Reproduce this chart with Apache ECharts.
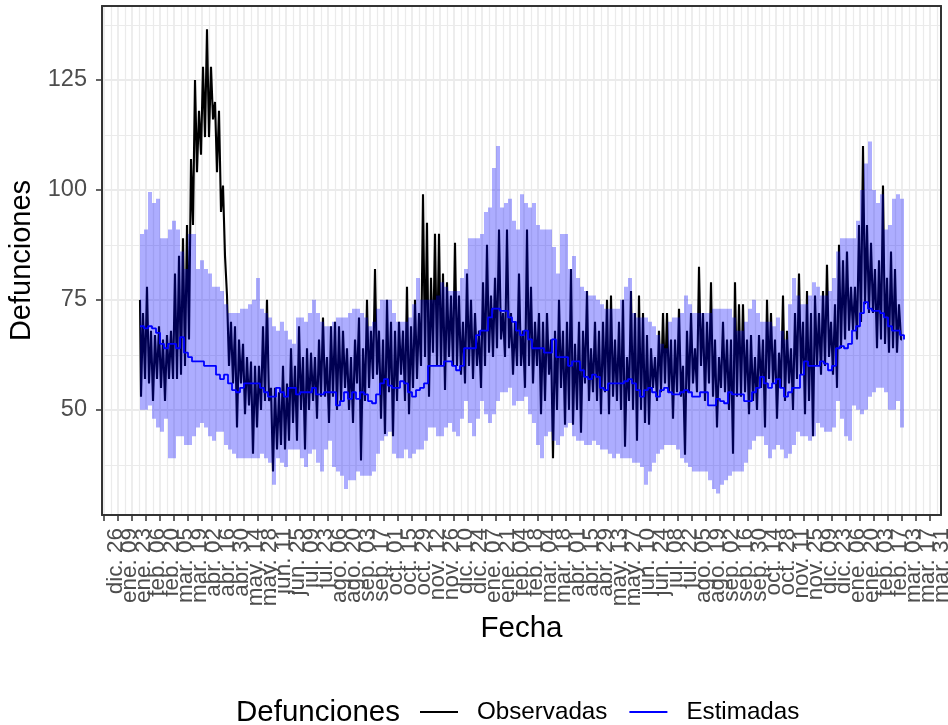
<!DOCTYPE html>
<html>
<head>
<meta charset="utf-8">
<style>
  html, body { margin: 0; padding: 0; background: #fff; }
  #chart { width: 948px; height: 725px; }
</style>
</head>
<body>
<div id="chart"></div>
<script src="https://cdn.jsdelivr.net/npm/echarts@6/dist/echarts.min.js"></script>
<script>
// tick labels, one every 14 days starting at day 0
const tickLabels = [
  'dic. 26','ene. 09','ene. 23','feb. 06','feb. 20','mar. 05','mar. 19','abr. 02','abr. 16','abr. 30',
  'may. 14','may. 28','jun. 11','jun. 25','jul. 09','jul. 23','ago. 06','ago. 20','sep. 03','sep. 17',
  'oct. 01','oct. 15','oct. 29','nov. 12','nov. 26','dic. 10','dic. 24','ene. 07','ene. 21','feb. 04',
  'feb. 18','mar. 04','mar. 18','abr. 01','abr. 15','abr. 29','may. 13','may. 27','jun. 10','jun. 24',
  'jul. 08','jul. 22','ago. 05','ago. 19','sep. 02','sep. 16','sep. 30','oct. 14','oct. 28','nov. 11',
  'nov. 25','dic. 09','dic. 23','ene. 06','ene. 20','feb. 03','feb. 17','mar. 03','mar. 17','mar. 31'
]
const yTicks = [50, 75, 100, 125]
const yMinor = [37.5, 62.5, 87.5, 112.5, 137.5]

// values, first point on day 36
const firstDay = 36
const obsStep = 2
const bandStep = 4

const observadas = [
  75,53,72,57,78,56,68,52,67,57,69,55,66,52,67,57,68,57,81,57,85,58,89,60,92,66,
  107,92,125,104,118,108,128,112,136.5,112,128,116,120,104,118,95,101,85,
  76,60,70,56,69,46,66,56,65,49,62,51,
  61,40,60,46,60,50,69,52,75,52,
  55,36,55,41,54,42,60,41,56,43,64,47,
  60,43,69,50,62,41,64,50,63,52,62,48,66,53,71,53,62,47,69,53,
  70,50,69,52,68,55,64,50,62,47,66,56,71,38.5,64,52,75,55,68,57,
  82,58,68,48,66,44.5,75,54,70,44,68,52,
  70,58,68,52,78,49,69,55,75,57,72,60,99,62,92.5,53,
  80,63,90,60,90,60,81,54.5,79,62,76,60,88,60,76,58,
  70,56,81,60,75,57,72,60,68,55,79,60,87.5,63,76,62,80,64,
  91,66,72,62,91,64,72,58,70,60,81,60,68,55,91,60,78,56,70,60,
  72,49,70,52,72,58,66,39,68,50,75,55,68,46.6,70,50,82,46.6,65,50,70,44.8,
  68,56,77,52,64,54,70,52,
  68,49,70,54,75,49,76,53,66,52,70,50,75,41.6,62,52,77,50,72,43,76,50,72,47,67,46.6,
  64,55,62,52,68,54,72,56,72,54,66,48,66,54,73,53,60,39.8,68,54,72,56,64,54,
  82.5,60,72,52,70,56,79,53,66,46,62,55,70,54,66,50,66,40,79,53,
  74,53,74,54,66,49,67,52,62,50,67,55,66,46,75,57,72,56,66,48,63,55,76,52,68,56,64,50,72,57,
  81,58,70,49,77,52,72,44,76,60,72,58,77,60,83,62,70,58,74,55,87.5,64,84,66,86,68,
  78,68,78,66,92,70,110,74,92,72,88,72,82,64,84,66,101,65,80,63,86,64,82,63,74,66
]

const estimadas = [
  69,68.5,69,68.5,67.5,65,64,65,65,64,
  66.5,63,62,61,61,61,60,60,60,58,
  57,58,56,54.5,54,55,56,56,56,56,
  55,54,53,53,55,54,53,55,55,53.5,
  54,54,54,55,53.5,53.5,54,54,54,51,
  52,54,52.5,54,52.5,54,53.5,52,51.5,53.5,
  56,57,55.5,55,55,56.5,56,54,53,54.5,
  55,56,60,60,60,60,61,61,60,59,
  60,64,64,64,67,68,68,71,73,73,
  72.5,72.5,71,70,68,67,68,66,64,64,
  64,63,63,66,62,62,62,60,61,61,
  59,57.5,57,58,57.5,55,54.5,56,56,56,
  56,56.5,57,56,54.5,53,54.5,55,54,53,
  54.5,55,54,53.5,53.5,54,54.5,54,53,53,
  54,54,51,51,52.5,52,51.5,54,53.5,53.5,
  53.5,52,52,54,55,57.5,56,55,56,57,
  55,53,54,55,55,58,61,60,60,60,
  61,60.5,59,60,64,64.5,64,65,68,69,
  72,74.5,73,72.5,72.5,72,71,69,68,68,
  67,66
]

const limiteSup = [
  90,91,99.5,97,98,89,89,91,93,91,
  86,82,90,90,82,84,82,81,78,78,
  77,74,72,72,72,73,73,74,75,80,
  73,72,71,69,68,70,68,66,65,71,
  71,70,72,75,72,70,69,69,70,71,
  71,71,72,73,73,72,71,69,70,73,
  75,75,75,72,70,70,70,71,74,80,
  75,75,75,75,76,79,78,77,77,77,
  80,82,89,89,89,90,95,96,105,110,
  96,97,98,93,91,99,97,96,97,92,
  91,91,91,87,81,90,90,82,85,80,
  78,77,76,76,75,74,73,73,73,73,
  75,78,80,72,71,71,71,70,69,67,
  65,64,70,71,71,72,76,74,72,72,
  72,72,72,73,73,73,73,73,71,68,
  68,70,73,75,72,70,70,70,69,71,
  68,66,74,80,76,74,74,76,79,78,
  76,76,77,80,86,89,89,89,89,93,
  100,106,111,100,97,99,91,92,98,99,
  98
]

const limiteInf = [
  50,50,51,48,46,45,48,39,39,44,
  44,42,42,44,46,47,46,44,43,45,
  45,42,41,40,39,39,39,39,39,39,
  40,39,38,33,39,38,37,41,41,41,
  39,37,40,41,38,36,41,43,37,36,
  35,32,34,34,36,35,35,35,36,40,
  43,44,45,40,39,39,41,39,40,41,
  41,43,46,46,44,44,46,47,45,44,
  48,52,47,44,48,52,49,47,49,52,
  54,54,55,51,52,52,53,49,47,42,
  39,44,45,43,42,44,46,47,44,43,
  43,42,42,43,42,41,41,40,39,40,
  39,39,39,38,38,37,33,36,38,40,
  41,42,42,42,41,39,38,37,36,36,
  36,36,34,32,31,33,34,35,36,36,
  36,38,41,43,44,44,42,39,41,42,
  41,39,40,42,45,44,44,43,44,47,
  46,45,45,46,52,48,44,43,51,50,
  49,50,53,54,55,55,54,50,50,52,
  46
]

const tickDays = tickLabels.map((_, i) => i * 14)
const minorDays = tickDays.map(d => d + 7)
// ECharts drops a label that overlaps its neighbour at the axis ends, so the
// tick labels go on two axes, every other one
const labelDaysA = tickDays.filter((_, i) => i % 2 === 0)
const labelDaysB = tickDays.filter((_, i) => i % 2 === 1)
const xMin = -2
const xMax = 837
const yMin = 26.1
const yMax = 141.8

const atDay = (arr, step) => arr.map((v, i) => [firstDay + i * step, v])

// ribbon between the limits as one stepped polygon
function renderBanda(params, api) {
  const top = []
  const bottom = []
  limiteSup.forEach((v, i) => {
    const d = firstDay + i * bandStep
    top.push(api.coord([d, v]), api.coord([d + bandStep, v]))
    bottom.push(api.coord([d, limiteInf[i]]), api.coord([d + bandStep, limiteInf[i]]))
  })
  return {
    type: 'polygon',
    shape: { points: top.concat(bottom.reverse()) },
    style: { fill: 'rgba(0,0,255,0.32)', stroke: null }
  }
}

const chart = echarts.init(document.getElementById('chart'), null, { renderer: 'canvas' })

const font = '"Liberation Sans", Arial, sans-serif'
const gridLine = '#ebebeb'
const frame = { show: true, onZero: false, lineStyle: { color: '#333', width: 2 } }
const xLabel = {
  rotate: 90,
  margin: 13,
  fontSize: 22.5,
  color: '#4d4d4d',
  verticalAlign: 'top',
  formatter: v => tickLabels[Math.round(v / 14)]
}

chart.setOption({
  animation: false,
  backgroundColor: '#fff',
  textStyle: { fontFamily: font },
  title: {
    text: 'Defunciones',
    left: 236,
    top: 698,
    padding: 0,
    textStyle: { fontFamily: font, fontSize: 29.5, fontWeight: 'normal', color: '#000' }
  },
  legend: {
    data: [
      { name: 'Observadas', icon: 'rect' },
      { name: 'Estimadas', icon: 'rect' }
    ],
    left: 420,
    top: 700,
    padding: 0,
    itemWidth: 38,
    itemHeight: 2,
    itemGap: 22,
    selectedMode: false,
    textStyle: { fontFamily: font, fontSize: 24.2, color: '#000', padding: [0, 0, 0, 14] }
  },
  grid: {
    left: 102,
    top: 6,
    width: 839,
    height: 509,
    show: false,
    outerBoundsMode: 'none'
  },
  xAxis: [
    {
      type: 'value',
      min: xMin,
      max: xMax,
      position: 'bottom',
      name: 'Fecha',
      nameLocation: 'middle',
      nameGap: 99,
      nameTextStyle: { fontSize: 29.5, color: '#000' },
      axisLine: frame,
      axisTick: { show: true, customValues: tickDays, length: 6, lineStyle: { color: '#333', width: 1.5 } },
      axisLabel: { ...xLabel, customValues: labelDaysA },
      splitLine: { show: true, lineStyle: { color: gridLine, width: 1.8 } }
    },
    {
      // minor vertical grid and the other half of the labels
      type: 'value',
      min: xMin,
      max: xMax,
      position: 'bottom',
      axisLine: { show: false },
      axisTick: { show: false, customValues: minorDays },
      axisLabel: { ...xLabel, customValues: labelDaysB },
      splitLine: { show: true, lineStyle: { color: gridLine, width: 1.2 } }
    },
    {
      // top edge of the panel
      type: 'value',
      min: xMin,
      max: xMax,
      position: 'top',
      axisLine: frame,
      axisTick: { show: false },
      axisLabel: { show: false },
      splitLine: { show: false }
    }
  ],
  yAxis: [
    {
      type: 'value',
      min: yMin,
      max: yMax,
      position: 'left',
      name: 'Defunciones',
      nameLocation: 'middle',
      nameGap: 61,
      nameTextStyle: { fontSize: 29, color: '#000' },
      axisLine: frame,
      axisTick: { show: true, customValues: yTicks, length: 6, lineStyle: { color: '#333', width: 1.5 } },
      axisLabel: { customValues: yTicks, margin: 15, fontSize: 23.5, color: '#4d4d4d', showMinLabel: true, showMaxLabel: true },
      splitLine: { show: true, lineStyle: { color: gridLine, width: 1.8 } }
    },
    {
      // minor horizontal grid and the right edge of the panel
      type: 'value',
      min: yMin,
      max: yMax,
      position: 'right',
      axisLine: frame,
      axisTick: { show: false, customValues: yMinor },
      axisLabel: { show: false },
      splitLine: { show: true, lineStyle: { color: gridLine, width: 1.2 } }
    }
  ],
  series: [
    {
      name: 'Observadas',
      type: 'line',
      data: atDay(observadas, obsStep),
      step: 'middle',
      symbol: 'none',
      z: 3,
      silent: true,
      lineStyle: { color: '#000', width: 2.1 },
      itemStyle: { color: '#000' }
    },
    {
      name: 'banda',
      type: 'custom',
      data: [[firstDay, limiteInf[0]]],
      renderItem: renderBanda,
      z: 4,
      silent: true,
      clip: false
    },
    {
      name: 'Estimadas',
      type: 'line',
      data: atDay(estimadas, bandStep),
      step: 'end',
      symbol: 'none',
      z: 5,
      silent: true,
      lineStyle: { color: '#0000ff', width: 1.8 },
      itemStyle: { color: '#0000ff' }
    }
  ]
})

window.addEventListener('resize', () => chart.resize())
</script>
</body>
</html>
